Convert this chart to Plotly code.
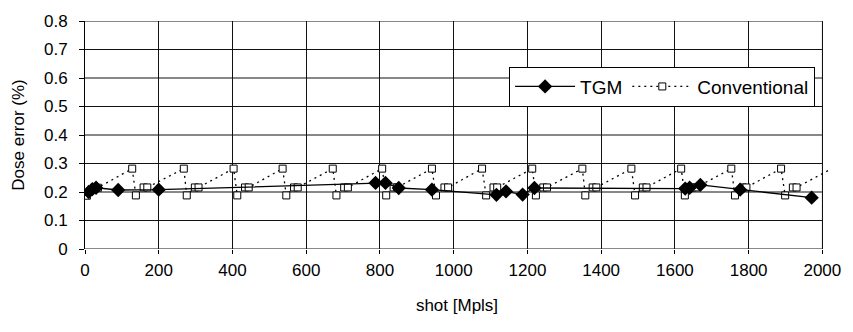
import plotly.graph_objects as go

# ---- data ----
tgm_x = [10, 20, 30, 90, 200, 788, 815, 851, 941, 1116, 1142, 1187, 1219, 1628, 1640, 1669, 1777, 1971]
tgm_y = [0.200, 0.210, 0.215, 0.207, 0.208, 0.232, 0.232, 0.214, 0.208, 0.190, 0.202, 0.191, 0.214, 0.212, 0.215, 0.225, 0.208, 0.180]

conv_x = [5, 25, 35, 128, 138, 159, 169, 268, 276, 298, 308, 403, 413, 434, 444,
          536, 546, 567, 577, 672, 682, 703, 713, 806, 817, 837, 847, 941, 952, 975, 985,
          1077, 1088, 1108, 1118, 1213, 1223, 1243, 1253, 1349, 1357, 1377, 1387,
          1482, 1492, 1513, 1523, 1617, 1627, 1648, 1658, 1753, 1763, 1784, 1794,
          1888, 1899, 1920, 1930, 2030]
conv_y = [0.187, 0.215, 0.215, 0.282, 0.188, 0.216, 0.216, 0.282, 0.188, 0.216, 0.216,
          0.282, 0.188, 0.216, 0.216, 0.282, 0.188, 0.216, 0.216, 0.282, 0.188, 0.216, 0.216,
          0.282, 0.188, 0.216, 0.216, 0.282, 0.188, 0.216, 0.216, 0.282, 0.188, 0.216, 0.216,
          0.282, 0.188, 0.216, 0.216, 0.282, 0.188, 0.216, 0.216, 0.282, 0.188, 0.216, 0.216,
          0.282, 0.188, 0.216, 0.216, 0.282, 0.188, 0.216, 0.216, 0.282, 0.188, 0.216, 0.216,
          0.285]

x_ticks = [0, 200, 400, 600, 800, 1000, 1200, 1400, 1600, 1800, 2000]
y_ticks = [0, 0.1, 0.2, 0.3, 0.4, 0.5, 0.6, 0.7, 0.8]
y_tick_text = ["0", "0.1", "0.2", "0.3", "0.4", "0.5", "0.6", "0.7", "0.8"]

FONT = "Liberation Sans, Arial, sans-serif"
X_MAX = x_ticks[-1]

fig = go.Figure()
fig.add_trace(go.Scatter(
    x=conv_x, y=conv_y, name="Conventional", mode="lines+markers",
    line=dict(color="black", width=1.3, dash="2px,4px"),
    marker=dict(symbol="square", size=7, color="white", line=dict(color="black", width=1)),
))
fig.add_trace(go.Scatter(
    x=tgm_x, y=tgm_y, name="TGM", mode="lines+markers",
    line=dict(color="black", width=1.3),
    marker=dict(symbol="diamond", size=11, color="black", line=dict(width=0)),
))

shapes = []
for v in y_ticks:
    shapes.append(dict(type="line", xref="x", yref="y", x0=0, x1=X_MAX, y0=v, y1=v,
                       line=dict(color="#111111", width=1), layer="below"))
shapes.append(dict(type="line", xref="x", yref="y", x0=X_MAX, x1=X_MAX, y0=y_ticks[0], y1=y_ticks[-1],
                   line=dict(color="#888888", width=1), layer="below"))

fig.update_layout(
    width=853, height=332,
    margin=dict(l=85, r=18, t=15, b=83),
    paper_bgcolor="white", plot_bgcolor="white",
    font=dict(family=FONT, size=18, color="black"),
    shapes=shapes,
    showlegend=True,
    legend=dict(
        orientation="h", x=0.570, y=0.80, xanchor="left", yanchor="top",
        bgcolor="white", bordercolor="black", borderwidth=1,
        font=dict(family=FONT, size=19, color="black"),
        itemwidth=60, traceorder="reversed",
    ),
)
fig.update_xaxes(
    range=[0, 2018], tickmode="array", tickvals=x_ticks,
    showgrid=True, gridcolor="#111111", gridwidth=1,
    showline=False, zeroline=False,
    ticks="outside", ticklen=4, tickcolor="black", ticklabelstandoff=2,
    tickfont=dict(size=17),
    title=dict(text="shot [Mpls]", font=dict(size=17), standoff=19),
)
fig.update_yaxes(
    range=[0, 0.8], tickmode="array", tickvals=y_ticks, ticktext=y_tick_text,
    showgrid=False, showline=True, linecolor="black", linewidth=1,
    zeroline=False, ticks="outside", ticklen=5, tickcolor="black", ticklabelstandoff=8,
    tickfont=dict(size=17),
    title=dict(text="Dose error (%)", font=dict(size=17), standoff=15),
)

fig.write_html("out.html")
